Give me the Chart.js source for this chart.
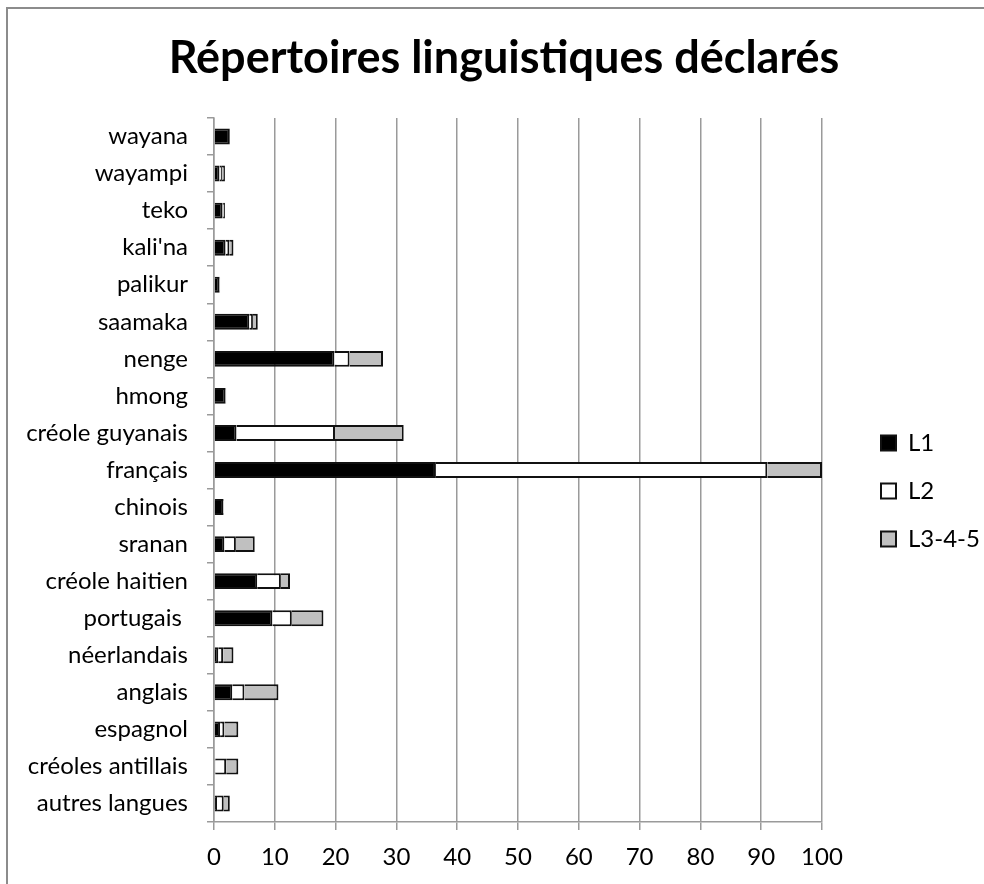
<!DOCTYPE html>
<html>
<head>
<meta charset="utf-8">
<script src="https://cdn.jsdelivr.net/npm/chart.js@4.4.0/dist/chart.umd.min.js"></script>
<style>
  html, body { margin: 0; padding: 0; background: #fff; overflow: hidden; }
  #frame { position: absolute; left: 6px; top: 7px; width: 1000px; height: 900px; border: 2px solid #8c8c8c; }
  #myChart { position: absolute; left: 0; top: 0; }
</style>
</head>
<body>
<div id="frame"></div>
<canvas id="myChart" width="984" height="884"></canvas>
<script>
const categories = ['wayana', 'wayampi', 'teko', "kali'na", 'palikur', 'saamaka', 'nenge', 'hmong',
  'créole guyanais', 'français', 'chinois', 'sranan', 'créole haitien', 'portugais ',
  'néerlandais', 'anglais', 'espagnol', 'créoles antillais', 'autres langues'];

const l1 = [2.6, 0.9, 1.4, 1.9, 0.9, 5.8, 19.8, 1.9, 3.7, 36.5, 1.5, 1.7, 7.1, 9.6, 0.7, 3.0, 1.0, 0.2, 0.5];
const l2 = [0, 0.4, 0.1, 0.6, 0, 0.6, 2.5, 0, 16.2, 54.5, 0, 1.9, 3.9, 3.2, 0.8, 2.0, 0.7, 1.8, 1.1];
const l345 = [0, 0.5, 0.3, 0.7, 0.1, 0.8, 5.5, 0.1, 11.3, 9.0, 0.1, 3.1, 1.5, 5.2, 1.7, 5.6, 2.3, 2.0, 1.0];

const xTicks = [0, 10, 20, 30, 40, 50, 60, 70, 80, 90, 100];

const font = 'Lato';
const gridGrey = '#9a9a9a';
const legendPad = 24;

// fixed legend width so the plot ends at the same place, then put the legend where the original has it
const legendPlace = {
  id: 'legendPlace',
  beforeLayout(chart) {
    const lg = chart.legend;
    if (lg && !lg._fixedFit) {
      const fit = lg.fit;
      lg.fit = function () { fit.call(this); this.width = 130; };
      lg._fixedFit = true;
    }
  },
  afterLayout(chart) {
    const lg = chart.legend;
    const w = lg.width;
    lg.left = chart.chartArea.right + 59 - legendPad;
    lg.right = lg.left + w;
    lg.top = 443 - 12 - legendPad;
    lg.bottom = lg.top + 200;
    // title sits a little right of the canvas centre in the original
    const t = chart.titleBlock;
    t.left += 28;
    t.right += 28;
  }
};

const data = {
  labels: categories,
  datasets: [
    { label: 'L1', data: l1, backgroundColor: '#000000', borderColor: '#111111', borderWidth: 2 },
    { label: 'L2', data: l2, backgroundColor: '#ffffff', borderColor: '#111111', borderWidth: 2 },
    { label: 'L3-4-5', data: l345, backgroundColor: '#c0c0c0', borderColor: '#111111', borderWidth: 2 }
  ]
};

const config = {
  type: 'bar',
  data: data,
  plugins: [legendPlace],
  options: {
    indexAxis: 'y',
    responsive: false,
    animation: false,
    barPercentage: 0.43,
    categoryPercentage: 1,
    layout: { padding: { left: 0, right: 32, top: 0, bottom: 0 } },
    plugins: {
      title: {
        display: true,
        text: 'Répertoires linguistiques déclarés',
        color: '#000',
        font: { family: font, size: 45, weight: 'bold' },
        padding: { top: 31, bottom: 33 }
      },
      legend: {
        position: 'right',
        align: 'start',
        labels: {
          color: '#000',
          font: { family: font, size: 24 },
          boxWidth: 15,
          boxHeight: 15,
          padding: legendPad
        }
      },
      tooltip: { enabled: false }
    },
    scales: {
      x: {
        stacked: true,
        min: 0,
        max: 100,
        afterBuildTicks: (scale) => { scale.ticks = xTicks.map(v => ({ value: v })); },
        afterFit: (scale) => { scale.height = 62; },
        grid: { color: gridGrey, lineWidth: 1.5, tickLength: 8 },
        border: { color: gridGrey, width: 1.5 },
        ticks: { color: '#000', font: { family: font, size: 24 }, padding: 13, maxRotation: 0 }
      },
      y: {
        stacked: true,
        afterFit: (scale) => { scale.width = 214; },
        grid: { drawOnChartArea: false, color: gridGrey, lineWidth: 1.5, tickLength: 7 },
        border: { color: gridGrey, width: 1.5 },
        ticks: { color: '#000', font: { family: font, size: 24 }, padding: 19, autoSkip: false }
      }
    }
  }
};

const myChart = new Chart(document.getElementById('myChart'), config);
</script>
</body>
</html>
